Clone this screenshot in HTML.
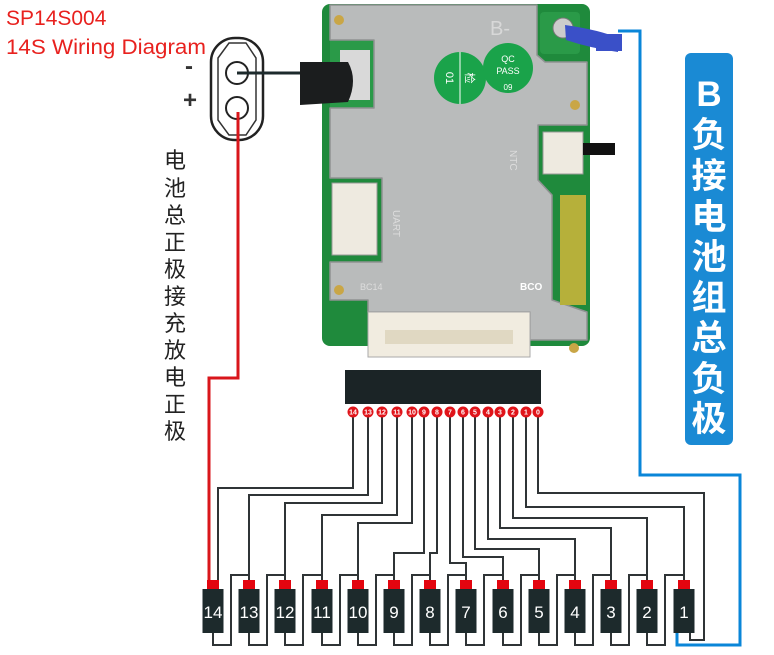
<!DOCTYPE html>
<html><head><meta charset="utf-8"><style>
html,body{margin:0;padding:0;background:#fff;width:774px;height:655px;overflow:hidden}
svg{display:block}
</style></head><body>
<svg width="774" height="655" viewBox="0 0 774 655" xmlns="http://www.w3.org/2000/svg" font-family="Liberation Sans, Noto Sans CJK SC, sans-serif">
<rect width="774" height="655" fill="#fff"/>
<text x="6" y="25" font-size="21" fill="#e8211e">SP14S004</text>
<text x="6" y="54" font-size="21" fill="#e8211e" textLength="200" lengthAdjust="spacingAndGlyphs">14S Wiring Diagram</text>
<rect x="211" y="38" width="52" height="102" rx="24" fill="#fff" stroke="#222" stroke-width="2.5"/>
<path d="M218 58 L229 43 L246 43 L256 58 L256 120 L246 135 L229 135 L218 120 Z" fill="none" stroke="#333" stroke-width="1.5"/>
<circle cx="237" cy="73" r="11" fill="#fff" stroke="#222" stroke-width="2"/>
<circle cx="237" cy="108" r="11" fill="#fff" stroke="#222" stroke-width="2"/>
<text x="185" y="74" font-size="24" font-weight="bold" fill="#333">-</text>
<text x="183" y="108" font-size="24" font-weight="bold" fill="#333">+</text>
<line x1="237" y1="73" x2="330" y2="73" stroke="#1d2a2c" stroke-width="3"/>
<polyline points="238,112 238,378 209,378 209,582" fill="none" stroke="#d9161b" stroke-width="3"/>
<g font-size="22" fill="#222" text-anchor="middle">
<text x="175" y="168">电</text><text x="175" y="196">池</text><text x="175" y="223">总</text><text x="175" y="250">正</text><text x="175" y="277">极</text><text x="175" y="304">接</text><text x="175" y="331">充</text><text x="175" y="358">放</text><text x="175" y="385">电</text><text x="175" y="412">正</text><text x="175" y="439">极</text>
</g>
<rect x="322" y="4" width="268" height="342" rx="8" fill="#1f8a3c"/>
<rect x="330" y="40" width="50" height="70" fill="#2a9a48"/>
<path d="M330 5 L537 5 L537 55 L545 62 L587 62 L587 125 L538 125 L538 180 L552 195 L552 300 L587 312 L587 340 L530 340 L530 312 L368 312 L368 300 L330 300 L330 262 L382 262 L382 178 L330 178 L330 108 L374 108 L374 40 L330 40 Z" fill="#b9bbbb" stroke="#8f9292" stroke-width="1.5" stroke-linejoin="round"/>
<rect x="340" y="50" width="30" height="50" fill="#d9d9d9"/>
<rect x="540" y="12" width="40" height="42" rx="4" fill="#2a9a48"/>
<circle cx="563" cy="28" r="10" fill="#ccc" stroke="#777"/>
<path d="M565 25 Q600 30 618 38 L618 52 Q590 48 566 40 Z" fill="#3a50c8"/>
<rect x="596" y="34" width="26" height="17" fill="#3a50c8"/>
<path d="M300 62 L348 62 Q358 80 348 102 L300 105 Z" fill="#1b1d1e"/>
<circle cx="460" cy="78" r="26" fill="#1aa34a"/>
<line x1="460" y1="52" x2="460" y2="104" stroke="#fff" stroke-width="1"/>
<text x="450" y="82" font-size="11" fill="#fff" text-anchor="middle" transform="rotate(90 450 78)">01</text>
<text x="470" y="82" font-size="11" fill="#fff" text-anchor="middle" transform="rotate(90 470 78)">检</text>
<circle cx="508" cy="68" r="25" fill="#1aa34a"/>
<text x="508" y="62" font-size="9" fill="#fff" text-anchor="middle">QC</text>
<text x="508" y="74" font-size="9" fill="#fff" text-anchor="middle">PASS</text>
<text x="508" y="90" font-size="8" fill="#fff" text-anchor="middle">09</text>
<text x="490" y="35" font-size="20" fill="#d8d8d8">B-</text>
<rect x="543" y="132" width="40" height="42" fill="#eeeae0" stroke="#999"/>
<rect x="583" y="143" width="32" height="12" fill="#111"/>
<rect x="332" y="183" width="45" height="72" fill="#eeeae0" stroke="#999"/>
<rect x="560" y="195" width="26" height="110" fill="#b6b03a"/>
<text x="520" y="290" font-size="10" fill="#fff" font-weight="bold">BCO</text>
<text x="360" y="290" font-size="9" fill="#ddd">BC14</text>
<text x="510" y="150" font-size="10" fill="#ddd" transform="rotate(90 510 150)">NTC</text>
<text x="393" y="210" font-size="10" fill="#ddd" transform="rotate(90 393 210)">UART</text>
<rect x="368" y="312" width="162" height="45" fill="#f1ece0" stroke="#aaa"/>
<rect x="385" y="330" width="128" height="14" fill="#e0d8c2"/>
<circle cx="339" cy="20" r="5" fill="#c9a646"/><circle cx="575" cy="105" r="5" fill="#c9a646"/>
<circle cx="339" cy="290" r="5" fill="#c9a646"/><circle cx="574" cy="348" r="5" fill="#c9a646"/>
<rect x="345" y="370" width="196" height="34" fill="#1b2426"/>
<polyline points="618,31 640,31 640,475 740,475 740,645 677,645 677,632" fill="none" stroke="#0a86d8" stroke-width="3"/>
<rect x="685" y="53" width="48" height="392" rx="6" fill="#1a8ad4"/>
<g font-size="35" font-weight="bold" fill="#fff" text-anchor="middle">
<text x="709" y="106">B</text><text x="709" y="147">负</text><text x="709" y="188">接</text><text x="709" y="229">电</text><text x="709" y="269">池</text><text x="709" y="310">组</text><text x="709" y="350">总</text><text x="709" y="391">负</text><text x="709" y="431">极</text>
</g>
<g fill="none" stroke="#2f3436" stroke-width="2">
<polyline points="353,412 353,488 218,488 218,582"/>
<polyline points="368,412 368,495 249,495 249,582"/>
<polyline points="382,412 382,503 285,503 285,582"/>
<polyline points="397,412 397,515 322,515 322,582"/>
<polyline points="412,412 412,523 358,523 358,582"/>
<polyline points="424,412 424,553 394,553 394,582"/>
<polyline points="437,412 437,553 430,553 430,582"/>
<polyline points="450,412 450,563 466,563 466,582"/>
<polyline points="463,412 463,557 503,557 503,582"/>
<polyline points="475,412 475,549 539,549 539,582"/>
<polyline points="488,412 488,539 575,539 575,582"/>
<polyline points="500,412 500,528 611,528 611,582"/>
<polyline points="513,412 513,518 647,518 647,582"/>
<polyline points="526,412 526,507 684,507 684,582"/>
<polyline points="538,412 538,493 704,493 704,640 690,640 690,632"/>
</g>
<g fill="none" stroke="#2f3436" stroke-width="2">
<polyline points="213,632 213,645 231,645 231,575 249,575 249,582"/>
<polyline points="249,632 249,645 267,645 267,575 285,575 285,582"/>
<polyline points="285,632 285,645 303,645 303,575 322,575 322,582"/>
<polyline points="322,632 322,645 340,645 340,575 358,575 358,582"/>
<polyline points="358,632 358,645 376,645 376,575 394,575 394,582"/>
<polyline points="394,632 394,645 412,645 412,575 430,575 430,582"/>
<polyline points="430,632 430,645 448,645 448,575 466,575 466,582"/>
<polyline points="466,632 466,645 484,645 484,575 503,575 503,582"/>
<polyline points="503,632 503,645 521,645 521,575 539,575 539,582"/>
<polyline points="539,632 539,645 557,645 557,575 575,575 575,582"/>
<polyline points="575,632 575,645 593,645 593,575 611,575 611,582"/>
<polyline points="611,632 611,645 629,645 629,575 647,575 647,582"/>
<polyline points="647,632 647,645 665,645 665,575 684,575 684,582"/>
</g>
<g font-size="7" fill="#fff" text-anchor="middle" font-weight="bold">
<circle cx="353" cy="412" r="5.5" fill="#e0141a"/><text x="353" y="414.5">14</text>
<circle cx="368" cy="412" r="5.5" fill="#e0141a"/><text x="368" y="414.5">13</text>
<circle cx="382" cy="412" r="5.5" fill="#e0141a"/><text x="382" y="414.5">12</text>
<circle cx="397" cy="412" r="5.5" fill="#e0141a"/><text x="397" y="414.5">11</text>
<circle cx="412" cy="412" r="5.5" fill="#e0141a"/><text x="412" y="414.5">10</text>
<circle cx="424" cy="412" r="5.5" fill="#e0141a"/><text x="424" y="414.5">9</text>
<circle cx="437" cy="412" r="5.5" fill="#e0141a"/><text x="437" y="414.5">8</text>
<circle cx="450" cy="412" r="5.5" fill="#e0141a"/><text x="450" y="414.5">7</text>
<circle cx="463" cy="412" r="5.5" fill="#e0141a"/><text x="463" y="414.5">6</text>
<circle cx="475" cy="412" r="5.5" fill="#e0141a"/><text x="475" y="414.5">5</text>
<circle cx="488" cy="412" r="5.5" fill="#e0141a"/><text x="488" y="414.5">4</text>
<circle cx="500" cy="412" r="5.5" fill="#e0141a"/><text x="500" y="414.5">3</text>
<circle cx="513" cy="412" r="5.5" fill="#e0141a"/><text x="513" y="414.5">2</text>
<circle cx="526" cy="412" r="5.5" fill="#e0141a"/><text x="526" y="414.5">1</text>
<circle cx="538" cy="412" r="5.5" fill="#e0141a"/><text x="538" y="414.5">0</text>
</g>
<g font-size="17" fill="#fff" text-anchor="middle">
<rect x="207" y="580" width="12" height="9" fill="#e3050f"/><rect x="202.5" y="589" width="21" height="44" fill="#1d2a2c"/><text x="213" y="618">14</text>
<rect x="243" y="580" width="12" height="9" fill="#e3050f"/><rect x="238.5" y="589" width="21" height="44" fill="#1d2a2c"/><text x="249" y="618">13</text>
<rect x="279" y="580" width="12" height="9" fill="#e3050f"/><rect x="274.5" y="589" width="21" height="44" fill="#1d2a2c"/><text x="285" y="618">12</text>
<rect x="316" y="580" width="12" height="9" fill="#e3050f"/><rect x="311.5" y="589" width="21" height="44" fill="#1d2a2c"/><text x="322" y="618">11</text>
<rect x="352" y="580" width="12" height="9" fill="#e3050f"/><rect x="347.5" y="589" width="21" height="44" fill="#1d2a2c"/><text x="358" y="618">10</text>
<rect x="388" y="580" width="12" height="9" fill="#e3050f"/><rect x="383.5" y="589" width="21" height="44" fill="#1d2a2c"/><text x="394" y="618">9</text>
<rect x="424" y="580" width="12" height="9" fill="#e3050f"/><rect x="419.5" y="589" width="21" height="44" fill="#1d2a2c"/><text x="430" y="618">8</text>
<rect x="460" y="580" width="12" height="9" fill="#e3050f"/><rect x="455.5" y="589" width="21" height="44" fill="#1d2a2c"/><text x="466" y="618">7</text>
<rect x="497" y="580" width="12" height="9" fill="#e3050f"/><rect x="492.5" y="589" width="21" height="44" fill="#1d2a2c"/><text x="503" y="618">6</text>
<rect x="533" y="580" width="12" height="9" fill="#e3050f"/><rect x="528.5" y="589" width="21" height="44" fill="#1d2a2c"/><text x="539" y="618">5</text>
<rect x="569" y="580" width="12" height="9" fill="#e3050f"/><rect x="564.5" y="589" width="21" height="44" fill="#1d2a2c"/><text x="575" y="618">4</text>
<rect x="605" y="580" width="12" height="9" fill="#e3050f"/><rect x="600.5" y="589" width="21" height="44" fill="#1d2a2c"/><text x="611" y="618">3</text>
<rect x="641" y="580" width="12" height="9" fill="#e3050f"/><rect x="636.5" y="589" width="21" height="44" fill="#1d2a2c"/><text x="647" y="618">2</text>
<rect x="678" y="580" width="12" height="9" fill="#e3050f"/><rect x="673.5" y="589" width="21" height="44" fill="#1d2a2c"/><text x="684" y="618">1</text>
</g>
</svg>
</body></html>
